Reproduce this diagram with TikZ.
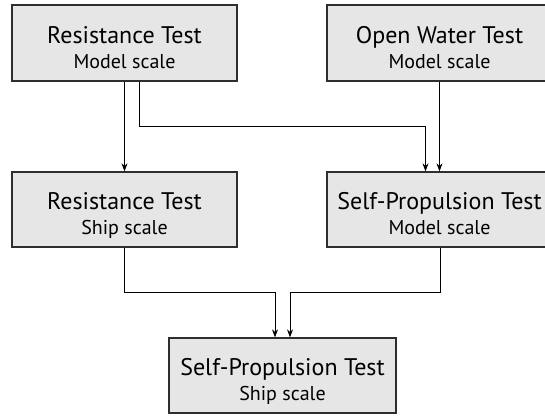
\documentclass[tikz,border=0pt]{standalone}
\usepackage{fontspec}
\setmainfont{PT Sans}
\usetikzlibrary{arrows.meta}
\definecolor{boxfill}{HTML}{E6E6E7}
\definecolor{boxline}{HTML}{2E2E2E}
\begin{document}
\begin{tikzpicture}[x=1pt,y=1pt,
  testbox/.style={draw=boxline,line width=1.3pt,fill=boxfill,rectangle,
    minimum width=225pt,minimum height=76pt,inner sep=0pt,
    font=\fontsize{20}{24}\selectfont},
  flow/.style={draw=black,line width=0.8pt,-{Stealth[length=8pt,width=6pt]}}]
\useasboundingbox (0,0) rectangle (545,-416);
% two-line box label: test name above, scale below, set a little low in the box
\newcommand\boxtext[2]{\raisebox{-8pt}[\height][\depth]{\begin{tabular}{@{}c@{}}{\fontsize{24}{24}\selectfont #1}\\[1pt] #2\end{tabular}}}
\node[testbox] (rm) at (124.5,-43) {\boxtext{Resistance Test}{Model scale}};
\node[testbox] (ow) at (439.5,-43) {\boxtext{Open Water Test}{Model scale}};
\node[testbox,minimum height=75pt] (rs) at (124.5,-209.5) {\boxtext{Resistance Test}{Ship scale}};
\node[testbox,minimum height=75pt] (spm) at (439.5,-209.5) {\boxtext{Self-Propulsion Test}{Model scale}};
\node[testbox,minimum width=227pt,minimum height=75pt] (sps) at (282.5,-375.5) {\boxtext{Self-Propulsion Test}{Ship scale}};
% heights of the horizontal runs
\coordinate (upper) at (0,-126);
\coordinate (lower) at (0,-292);
% connectors
\draw[flow] (rm.south) -- (rs.north);
\coordinate (rmout) at ([xshift=15pt]rm.south);
\coordinate (spmin) at ([xshift=-14pt]spm.north);
\draw[flow] (rmout) -- (rmout |- upper) -- (spmin |- upper) -- (spmin);
\draw[flow] (ow.south) -- (spm.north);
\coordinate (spsl) at ([xshift=-7.5pt]sps.north);
\coordinate (spsr) at ([xshift=7.5pt]sps.north);
\coordinate (spmout) at ([xshift=1pt]spm.south);
\draw[flow] (rs.south) -- (rs.south |- lower) -- (spsl |- lower) -- (spsl);
\draw[flow] (spmout) -- (spmout |- lower) -- (spsr |- lower) -- (spsr);
\end{tikzpicture}
\end{document}
